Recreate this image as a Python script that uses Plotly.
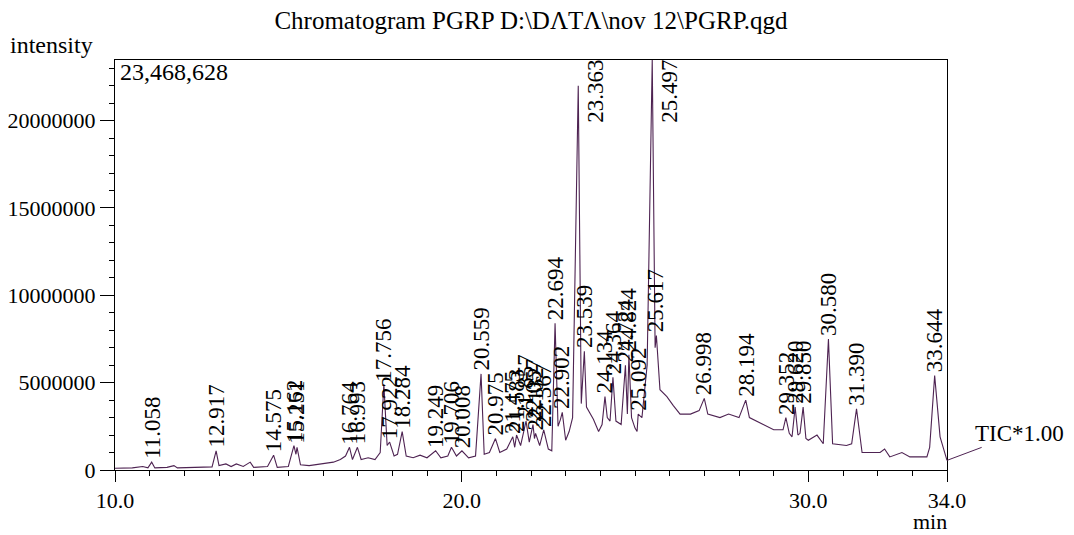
import plotly.graph_objects as go

# ---- data (time in min, intensity in millions of counts) ----
time_min = [
    10.00, 10.50, 10.80, 10.95, 11.058, 11.15, 11.50, 11.70, 11.80, 12.30, 12.80, 12.917, 13.00,
    13.20, 13.35, 13.50, 13.70, 13.90, 14.00, 14.40, 14.575, 14.68, 15.00, 15.162, 15.22, 15.251,
    15.35, 15.60, 16.00, 16.30, 16.50, 16.65, 16.764, 16.85, 16.993, 17.10, 17.30, 17.50, 17.65,
    17.756, 17.85, 17.922, 18.05, 18.15, 18.284, 18.40, 18.60, 18.80, 19.00, 19.249, 19.40, 19.60,
    19.706, 19.85, 20.008, 20.20, 20.40, 20.559, 20.65, 20.80, 20.975, 21.10, 21.30, 21.475, 21.53,
    21.583, 21.70, 21.857, 21.95, 22.057, 22.10, 22.132, 22.25, 22.367, 22.50, 22.60, 22.694, 22.78,
    22.85, 22.902, 23.00, 23.10, 23.20, 23.363, 23.45, 23.539, 23.60, 23.80, 23.95, 24.05, 24.134,
    24.20, 24.28, 24.364, 24.45, 24.60, 24.724, 24.78, 24.824, 24.90, 25.00, 25.06, 25.092, 25.20,
    25.35, 25.497, 25.58, 25.617, 25.72, 25.92, 26.10, 26.30, 26.60, 26.85, 26.998, 27.10, 27.45,
    27.70, 28.00, 28.194, 28.30, 28.60, 29.00, 29.27, 29.352, 29.45, 29.53, 29.620, 29.70, 29.76,
    29.850, 29.93, 30.00, 30.25, 30.43, 30.580, 30.70, 31.10, 31.25, 31.390, 31.55, 32.07, 32.20,
    32.35, 32.70, 32.93, 33.42, 33.50, 33.644, 33.80, 34.00,
]
intensity_m = [
    0.10, 0.12, 0.20, 0.12, 0.45, 0.12, 0.15, 0.25, 0.12, 0.15, 0.18, 1.10, 0.25,
    0.35, 0.20, 0.35, 0.20, 0.45, 0.15, 0.20, 0.85, 0.15, 0.20, 1.40, 0.90, 1.30,
    0.30, 0.25, 0.35, 0.45, 0.60, 0.80, 1.30, 0.60, 1.30, 0.60, 0.70, 0.60, 1.00,
    4.90, 1.40, 1.60, 0.80, 0.90, 2.20, 0.80, 0.70, 0.85, 0.70, 1.10, 0.70, 0.80,
    1.30, 0.80, 1.10, 0.70, 0.80, 5.50, 0.90, 1.00, 1.80, 1.00, 1.20, 1.90, 1.30,
    2.00, 1.40, 2.80, 1.60, 2.60, 1.80, 2.10, 1.40, 2.30, 1.20, 1.10, 8.40, 2.50,
    2.90, 3.30, 1.70, 2.20, 3.00, 22.00, 3.80, 6.80, 3.60, 2.90, 2.20, 2.60, 4.20,
    3.00, 2.80, 5.30, 2.80, 2.60, 6.00, 3.20, 6.60, 3.00, 2.40, 2.20, 3.20, 3.00,
    6.00, 23.47, 7.00, 7.70, 4.60, 4.20, 3.70, 3.20, 3.20, 3.40, 4.10, 3.20, 3.00,
    3.20, 3.00, 4.00, 3.00, 2.70, 2.30, 2.30, 3.00, 2.10, 1.90, 3.60, 2.00, 2.10,
    3.60, 1.80, 1.70, 2.00, 1.50, 7.50, 1.50, 1.40, 1.50, 3.50, 1.00, 1.00, 1.20,
    0.75, 1.00, 0.75, 0.75, 1.30, 5.40, 1.90, 0.55,
]
peak_rt = [
    11.058, 12.917, 14.575, 15.162, 15.251, 16.764, 16.993, 17.756, 17.922, 18.284,
    19.249, 19.706, 20.008, 20.559, 20.975, 21.475, 21.583, 21.857, 22.057, 22.132,
    22.367, 22.694, 22.902, 23.363, 23.539, 24.134, 24.364, 24.724, 24.824, 25.092,
    25.497, 25.617, 26.998, 28.194, 29.352, 29.620, 29.850, 30.580, 31.390, 33.644,
]
y_max = 23468628
y_ticks = [0, 5000000, 10000000, 15000000, 20000000]
x_ticks = [10.0, 20.0, 30.0, 34.0]

# ---- styling ----
TRACE = "#4E2352"
SERIF = "Times New Roman"
f_title = dict(family=SERIF, size=25, color="black")
f_tick = dict(family=SERIF, size=22, color="black")
f_peak = dict(family=SERIF, size=23, color="black")
f_text = dict(family=SERIF, size=24, color="black")
f_tic = dict(family=SERIF, size=23, color="black")
f_min = dict(family=SERIF, size=22, color="black")

intensity = [v * 1e6 for v in intensity_m]
lookup = dict(zip(time_min, intensity))

fig = go.Figure()
fig.add_trace(go.Scatter(x=time_min, y=intensity, mode="lines",
                         line=dict(color=TRACE, width=1.1), hoverinfo="x+y",
                         showlegend=False))

annotations = []
label_span = 4.3e6  # approximate data height of a rotated label
for rt in peak_rt:
    h = lookup[rt]
    txt = f"{rt:.3f}"
    if h + label_span > y_max:
        annotations.append(dict(x=rt, y=y_max, xref="x", yref="y", text=txt,
                                textangle=-90, showarrow=False, xanchor="center",
                                yanchor="top", xshift=17, yshift=2, font=f_peak))
    else:
        annotations.append(dict(x=rt, y=h, xref="x", yref="y", text=txt,
                                textangle=-90, showarrow=False, xanchor="center",
                                yanchor="bottom", yshift=1, font=f_peak))

# plot area: 832 x 410 px
annotations += [
    dict(x=-0.1286, y=1.0366, xref="paper", yref="paper", text="intensity",
         showarrow=False, xanchor="left", yanchor="middle", font=f_text),
    dict(x=0.0036, y=0.9707, xref="paper", yref="paper", text="23,468,628",
         showarrow=False, xanchor="left", yanchor="middle", font=f_text),
    dict(x=0.9796, y=-0.1268, xref="paper", yref="paper", text="min",
         showarrow=False, xanchor="center", yanchor="middle", font=f_min),
    dict(x=time_min[-1], y=intensity[-1], xref="x", yref="y", text="TIC*1.00",
         showarrow=True, arrowhead=0, arrowwidth=1, arrowcolor=TRACE,
         ax=72, ay=-27, standoff=0, font=f_tic),
]

fig.update_layout(
    width=1066, height=527,
    margin=dict(l=107, r=127, t=52, b=65, autoexpand=False),
    paper_bgcolor="white", plot_bgcolor="white",
    title=dict(text=r"Chromatogram PGRP D:\DΛTΛ\nov 12\PGRP.qgd",
               x=0.5, xanchor="center", xref="paper", y=1 - 12 / 527, yanchor="middle",
               font=f_title),
    annotations=annotations,
    xaxis=dict(range=[10, 34], tickmode="array", tickvals=x_ticks,
               ticktext=[f"{v:.1f}" for v in x_ticks], automargin=False,
               ticks="outside", ticklen=11, tickwidth=1, tickcolor="black",
               showline=True, linecolor="black", linewidth=1, mirror=True,
               showgrid=False, zeroline=False,
               minor=dict(tickmode="linear", tick0=10, dtick=1, ticks="outside",
                          ticklen=5, tickcolor="black", showgrid=False),
               tickfont=f_tick),
    yaxis=dict(range=[0, y_max], tickmode="array", tickvals=y_ticks,
               ticktext=[str(v) for v in y_ticks], automargin=False,
               ticks="outside", ticklen=14, tickwidth=1, tickcolor="black",
               showline=True, linecolor="black", linewidth=1, mirror=True,
               showgrid=False, zeroline=False,
               minor=dict(tickmode="linear", tick0=0, dtick=1000000, ticks="outside",
                          ticklen=5, tickcolor="black", showgrid=False),
               tickfont=f_tick),
)

fig.write_html("out.html")
